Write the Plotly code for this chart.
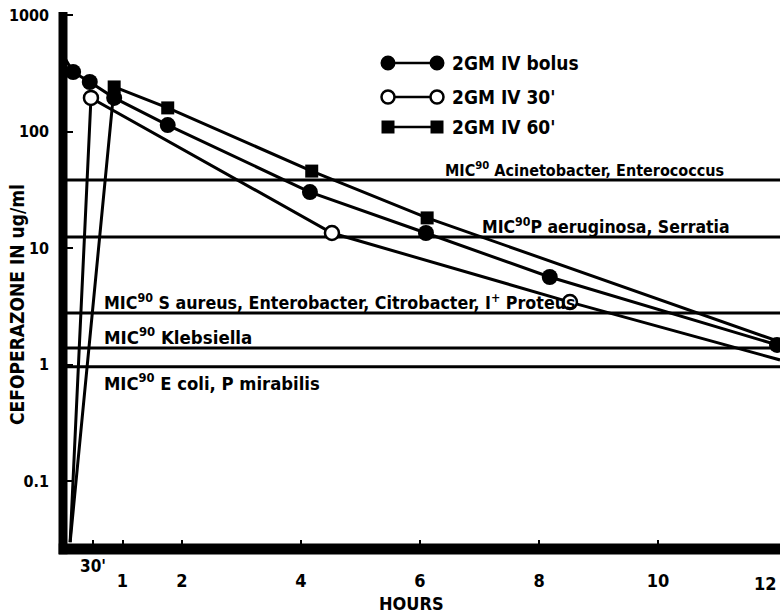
import numpy as np
import plotly.graph_objects as go

# ---------------- data ----------------
series_names = ["2GM IV bolus", "2GM IV 30'", "2GM IV 60'"]

bolus_hours = [0.0, 0.17, 0.45, 0.86, 1.76, 4.15, 6.10, 8.18, 12.0]
bolus_conc = [455, 325, 267, 195, 114, 30.3, 13.5, 5.66, 1.48]
bolus_marked = [False, True, True, True, True, True, True, True, True]

inf30_hours = [0.12, 0.47, 4.52, 8.52, 12.05]
inf30_conc = [0.030, 195, 13.5, 3.45, 1.10]
inf30_marked = [False, True, True, True, False]

inf60_hours = [0.12, 0.86, 1.76, 4.18, 6.12, 12.05]
inf60_conc = [0.030, 242, 160, 45.9, 18.2, 1.57]
inf60_marked = [False, True, True, True, True, False]

mic_values = [38.5, 12.5, 2.78, 1.39, 0.96]
mic_labels = [
    "MIC<sup>90</sup> Acinetobacter, Enterococcus",
    "MIC<sup>90</sup>P aeruginosa, Serratia",
    "MIC<sup>90</sup> S aureus, Enterobacter, Citrobacter, I<sup>+</sup> Proteus",
    "MIC<sup>90</sup> Klebsiella",
    "MIC<sup>90</sup> E coli, P mirabilis",
]

x_range = [0.0, 12.05]
y_range_log = [-1.581, 3.027]
x_tick_vals = [1, 2, 4, 6, 8, 10]
x_tick_text = ["1", "2", "4", "6", "8", "10"]
x_minor_tick_vals = [0.5]
y_tick_vals = [0.1, 1, 10, 100, 1000]
y_tick_text = ["0.1", "1", "10", "100", "1000"]

# ---------------- layout geometry ----------------
W, H = 780, 616
L, R, T, B = 63, 0, 12, 67
PW, PH = W - L - R, H - T - B
FONT = "DejaVu Sans Condensed, Liberation Sans, Arial, sans-serif"


def px(xp):
    return (xp - L) / PW


def py(yp):
    return (T + PH - yp) / PH


fig = go.Figure()

# MIC reference lines
for v in mic_values:
    fig.add_trace(go.Scatter(x=x_range, y=[v, v], mode="lines",
                             line=dict(color="black", width=3),
                             showlegend=False, hoverinfo="skip"))

series = [
    (bolus_hours, bolus_conc, bolus_marked,
     dict(symbol="circle", size=16, color="black")),
    (inf30_hours, inf30_conc, inf30_marked,
     dict(symbol="circle", size=14, color="white",
          line=dict(color="black", width=2.5))),
    (inf60_hours, inf60_conc, inf60_marked,
     dict(symbol="square", size=13, color="black")),
]

for (hx, cy, mk, mstyle), name in zip(series, series_names):
    fig.add_trace(go.Scatter(x=hx, y=cy, mode="lines",
                             line=dict(color="black", width=3),
                             name=name, showlegend=False))
for (hx, cy, mk, mstyle), name in zip(series, series_names):
    fig.add_trace(go.Scatter(x=[h for h, m in zip(hx, mk) if m],
                             y=[c for c, m in zip(cy, mk) if m],
                             mode="markers", marker=mstyle,
                             name=name, showlegend=False))

annotations = []
shapes = []

# thick axis spines
shapes.append(dict(type="line", xref="paper", yref="paper", x0=-0.006, x1=1.0,
                   y0=0, y1=0, line=dict(color="black", width=11), layer="above"))
shapes.append(dict(type="line", xref="paper", yref="paper", x0=0, x1=0,
                   y0=-0.01, y1=1.0, line=dict(color="black", width=9), layer="above"))

# legend (drawn manually: marker——marker  label)
legend_rows = [63, 97, 127]
for (hx, cy, mk, mstyle), name, ry in zip(series, series_names, legend_rows):
    x1, x2 = 388, 437
    shapes.append(dict(type="line", xref="paper", yref="paper",
                       x0=px(x1), x1=px(x2), y0=py(ry), y1=py(ry),
                       line=dict(color="black", width=2.5)))
    for cx in (x1, x2):
        if mstyle["symbol"] == "square":
            r = 6.5
            shapes.append(dict(type="rect", xref="paper", yref="paper",
                               x0=px(cx - r), x1=px(cx + r),
                               y0=py(ry + r), y1=py(ry - r),
                               fillcolor="black", line=dict(width=0)))
        elif mstyle["color"] == "white":
            r = 6.5
            shapes.append(dict(type="circle", xref="paper", yref="paper",
                               x0=px(cx - r), x1=px(cx + r),
                               y0=py(ry + r), y1=py(ry - r),
                               fillcolor="white",
                               line=dict(color="black", width=2.5)))
        else:
            r = 7.5
            shapes.append(dict(type="circle", xref="paper", yref="paper",
                               x0=px(cx - r), x1=px(cx + r),
                               y0=py(ry + r), y1=py(ry - r),
                               fillcolor="black", line=dict(width=0)))
    annotations.append(dict(text="<b>%s</b>" % name, xref="paper", yref="paper",
                            x=px(450), y=py(ry), xanchor="left", yanchor="middle",
                            showarrow=False,
                            font=dict(family=FONT, size=19, color="black")))

# MIC labels (anchored to their lines)
mic_label_x = [443, 480, 102, 102, 102]
mic_label_size = [16.0, 17.5, 17.7, 18.5, 18.3]
mic_label_side = ["above", "above", "above", "above", "below"]
for v, txt, lx, fs, side in zip(mic_values, mic_labels, mic_label_x,
                                mic_label_size, mic_label_side):
    annotations.append(dict(text="<b>%s</b>" % txt, xref="paper", yref="y",
                            x=px(lx), y=np.log10(v),
                            xanchor="left",
                            yanchor="bottom" if side == "above" else "top",
                            yshift=-2 if side == "above" else -1,
                            showarrow=False,
                            font=dict(family=FONT, size=fs, color="black")))

# extra x tick labels
annotations.append(dict(text="<b>30'</b>", xref="x", yref="paper", x=0.5, y=py(566),
                        xanchor="center", yanchor="middle", showarrow=False,
                        font=dict(family=FONT, size=17, color="black")))
annotations.append(dict(text="<b>12</b>", xref="paper", yref="paper", x=px(779), y=py(583),
                        xanchor="right", yanchor="middle", showarrow=False,
                        font=dict(family=FONT, size=18, color="black")))
# axis titles
annotations.append(dict(text="<b>HOURS</b>", xref="paper", yref="paper", x=px(411), y=py(603),
                        xanchor="center", yanchor="middle", showarrow=False,
                        font=dict(family=FONT, size=18, color="black")))
annotations.append(dict(text="<b>CEFOPERAZONE IN ug/ml</b>", xref="paper", yref="paper",
                        x=px(17), y=py(305), xanchor="center", yanchor="middle",
                        textangle=-90, showarrow=False,
                        font=dict(family=FONT, size=19, color="black")))

fig.update_layout(
    width=W, height=H,
    margin=dict(l=L, r=R, t=T, b=B, pad=0),
    paper_bgcolor="white", plot_bgcolor="white",
    showlegend=False,
    annotations=annotations,
    shapes=shapes,
    xaxis=dict(range=x_range, showgrid=False, zeroline=False, showline=False,
               ticks="inside", ticklen=9, tickwidth=2, tickcolor="black",
               tickvals=x_tick_vals, ticktext=x_tick_text,
               minor=dict(tickvals=x_minor_tick_vals, ticks="inside", ticklen=9,
                          tickwidth=2, tickcolor="black"),
               ticklabelstandoff=19,
               tickfont=dict(family=FONT, size=18, color="black", weight="bold")),
    yaxis=dict(type="log", range=y_range_log, showgrid=False, zeroline=False,
               showline=False,
               ticks="inside", ticklen=10, tickwidth=2, tickcolor="black",
               tickvals=y_tick_vals, ticktext=y_tick_text,
               ticklabelstandoff=13,
               tickfont=dict(family=FONT, size=16, color="black", weight="bold")),
)

fig.write_html("out.html", config={"displayModeBar": False},
               post_script="document.body.style.margin='0';")
